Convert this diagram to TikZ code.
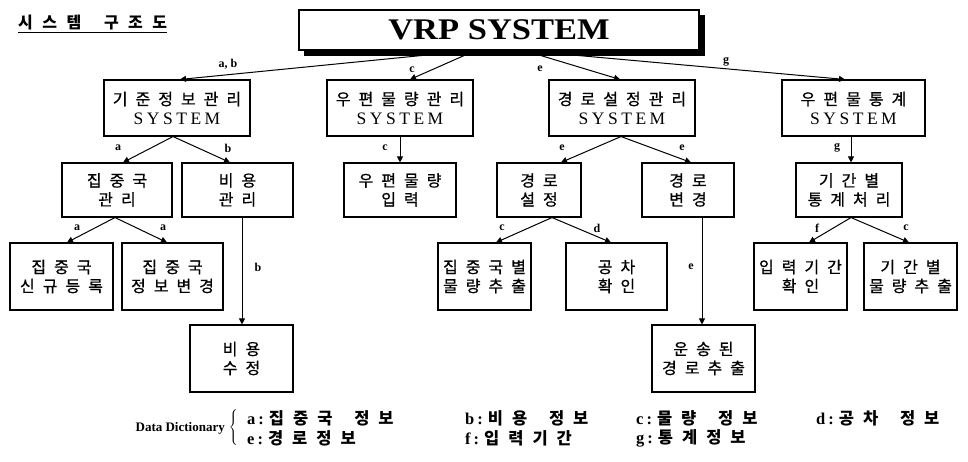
\documentclass[tikz,border=0pt]{standalone}
\usepackage{fontspec}
\setmainfont{Liberation Serif}
\newfontfamily\kr{Noto Sans CJK KR}
\newfontfamily\krm[FakeBold=0.8]{Noto Sans CJK KR}
\usetikzlibrary{arrows.meta}
\newdimen\lsp \lsp=8pt
\def\SOend{\SOend}
\def\SO#1{\SOa#1\SOend}
\def\SOa#1{#1\SOb}
\def\SOb#1{\ifx\SOend#1\else\kern\lsp#1\expandafter\SOb\fi}
\newcommand\sys{{\rmfamily\fontsize{17.5}{19}\selectfont\lsp=3.5pt\relax\SO{SYSTEM}}}
\newcommand\dk[2]{{\rmfamily\bfseries #1\kern3pt:\kern5pt}{\kr\bfseries\lsp=9pt\relax\SO{#2}}}
\tikzset{
  box/.style={draw, line width=1.1pt, inner sep=0pt, align=center, font=\krm\fontsize{16}{19}\selectfont},
  lbl/.style={inner sep=0pt, font=\bfseries\fontsize{12}{13}\selectfont},
  arr/.style={line width=1pt, -{Triangle[length=6pt,width=6pt]}},
  dic/.style={anchor=west, inner sep=0pt, font=\fontsize{16.5}{18}\selectfont},
}
\begin{document}
\begin{tikzpicture}[x=1pt,y=-1pt]
\useasboundingbox (0,0) rectangle (968,462);
% title
\node[anchor=west, inner sep=0pt, font=\kr\bfseries\fontsize{16}{18}\selectfont] (title) at (18,23) {\lsp=9.5pt\relax\SO{시스템~구조도}};
\draw[line width=1.2pt] ([yshift=-1.5pt]title.south west) -- ([yshift=-1.5pt]title.south east);
% top box with shadow
\fill[black] (304,15) rectangle (705,56);
\node[draw, fill=white, line width=1.5pt, minimum width=400pt, minimum height=40pt, inner sep=0pt,
      font=\bfseries\fontsize{30}{32}\selectfont] (top) at (499,30) {\scalebox{1.15}[1]{VRP SYSTEM}};
% level 1
\node[box, minimum width=146pt, minimum height=56pt] (A) at (177,108) {\SO{기준정보관리}\\\sys};
\node[box, minimum width=146pt, minimum height=56pt] (B) at (400,108) {\SO{우편물량관리}\\\sys};
\node[box, minimum width=146pt, minimum height=56pt] (C) at (622,108) {\SO{경로설정관리}\\\sys};
\node[box, minimum width=143pt, minimum height=56pt] (D) at (853.5,108) {\SO{우편물통계}\\\sys};
% level 2
\node[box, minimum width=110pt, minimum height=54pt] (A1) at (117,190) {\SO{집중국}\\\SO{관리}};
\node[box, minimum width=111pt, minimum height=54pt] (A2) at (237.5,190) {\SO{비용}\\\SO{관리}};
\node[box, minimum width=112pt, minimum height=54pt] (B1) at (400,190) {\SO{우편물량}\\\SO{입력}};
\node[box, minimum width=84pt, minimum height=54pt] (C1) at (539,190) {\SO{경로}\\\SO{설정}};
\node[box, minimum width=92pt, minimum height=54pt] (C2) at (688,190) {\SO{경로}\\\SO{변경}};
\node[box, minimum width=106pt, minimum height=54pt] (D1) at (849,190) {\SO{기간별}\\\SO{통계처리}};
% level 3
\node[box, minimum width=103pt, minimum height=67pt] (A11) at (61.5,276.5) {\SO{집중국}\\\SO{신규등록}};
\node[box, minimum width=101pt, minimum height=67pt] (A12) at (172.5,276.5) {\SO{집중국}\\\SO{정보변경}};
\node[box, minimum width=93pt, minimum height=67pt] (C11) at (484.5,276.5) {\SO{집중국별}\\\SO{물량추출}};
\node[box, minimum width=101pt, minimum height=67pt] (C12) at (616.5,276.5) {\SO{공차}\\\SO{확인}};
\node[box, minimum width=93pt, minimum height=67pt] (D11) at (800.5,276.5) {\SO{입력기간}\\\SO{확인}};
\node[box, minimum width=93pt, minimum height=67pt] (D12) at (910.5,276.5) {\SO{기간별}\\\SO{물량추출}};
% level 4
\node[box, minimum width=103pt, minimum height=67pt] (A21) at (241.5,358.5) {\SO{비용}\\\SO{수정}};
\node[box, minimum width=103pt, minimum height=67pt] (C21) at (703.5,358.5) {\SO{운송된}\\\SO{경로추출}};
% connectors from top
\draw[arr] ([xshift=-29pt]top.south) -- ([xshift=3pt]A.north);
\draw[arr] ([xshift=-24pt]top.south) -- ([xshift=10pt]B.north);
\draw[arr] ([xshift=26pt]top.south) -- ([xshift=-2pt]C.north);
\draw[arr] ([xshift=26pt]top.south) -- ([xshift=-8.5pt]D.north);
% level1 -> level2
\draw[arr] ([xshift=-4pt]A.south) -- ([xshift=6pt]A1.north);
\draw[arr] ([xshift=-4pt]A.south) -- ([xshift=-7.5pt]A2.north);
\draw[arr] (B.south) -- (B1.north);
\draw[arr] ([xshift=-1pt]C.south) -- ([xshift=22pt]C1.north);
\draw[arr] ([xshift=-1pt]C.south) -- ([xshift=3pt]C2.north);
\draw[arr] ([xshift=-2.5pt]D.south) -- ([xshift=2pt]D1.north);
% level2 -> level3/4
\draw[arr] ([xshift=-2pt]A1.south) -- ([xshift=5.5pt]A11.north);
\draw[arr] ([xshift=-2pt]A1.south) -- ([xshift=-5.5pt]A12.north);
\draw[arr] ([xshift=4.5pt]A2.south) -- ([xshift=4.5pt]A2.south |- A21.north);
\draw[arr] ([xshift=13pt]C1.south) -- ([xshift=11.5pt]C11.north);
\draw[arr] ([xshift=13pt]C1.south) -- ([xshift=-5.5pt]C12.north);
\draw[arr] ([xshift=14pt]C2.south) -- ([xshift=14pt]C2.south |- C21.north);
\draw[arr] ([xshift=2pt]D1.south) -- ([xshift=8.5pt]D11.north);
\draw[arr] ([xshift=2pt]D1.south) -- ([xshift=-1.5pt]D12.north);
% labels
\node[lbl] (l1) at (228,64) {a, b};
\node[lbl] (l2) at (412,70) {c};
\node[lbl] (l3) at (540,69) {e};
\node[lbl] (l4) at (726,62) {g};
\node[lbl] (l5) at (118,148) {a};
\node[lbl] (l6) at (228,148) {b};
\node[lbl] (l7) at (385,148) {c};
\node[lbl] (l8) at (562,148) {e};
\node[lbl] (l9) at (682,148) {e};
\node[lbl] (l10) at (837,148) {g};
\node[lbl] (l11) at (77,228) {a};
\node[lbl] (l12) at (163,228) {a};
\node[lbl] (l13) at (502,228) {c};
\node[lbl] (l14) at (597,228) {d};
\node[lbl] (l15) at (817,228) {f};
\node[lbl] (l16) at (906,228) {c};
\node[lbl] (l17) at (258,267) {b};
\node[lbl] (l18) at (691,267) {e};
% data dictionary
\node[anchor=east, inner sep=0pt, font=\bfseries\fontsize{13}{15}\selectfont] (dd) at (225,428) {Data Dictionary};
\node[inner sep=0pt] (brace) at (234,428) {$\left\{\vrule height 17pt depth 17pt width 0pt\right.$};
\node[dic] (da) at (247,418) {\dk{a}{집중국~정보}};
\node[dic] (db) at (465,418) {\dk{b}{비용~정보}};
\node[dic] (dcc) at (636,418) {\dk{c}{물량~정보}};
\node[dic] (dd2) at (816,418) {\dk{d}{공차~정보}};
\node[dic] (de) at (247,438) {\dk{e}{경로정보}};
\node[dic] (df) at (465,438) {\dk{f}{입력기간}};
\node[dic] (dg) at (636,438) {\dk{g}{통계정보}};
\end{tikzpicture}
\end{document}
